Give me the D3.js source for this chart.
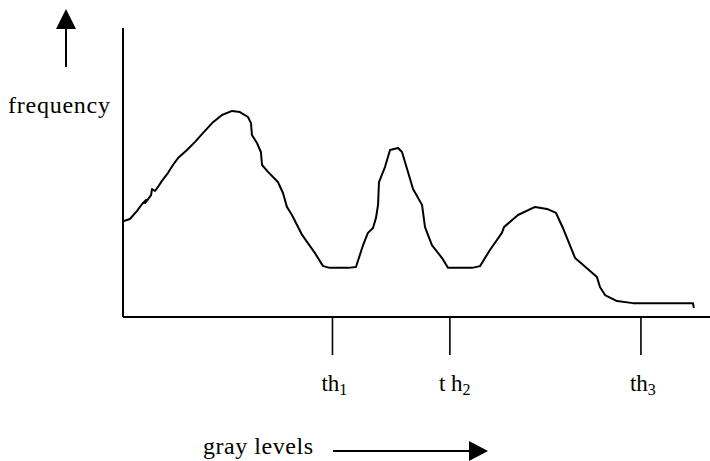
<!DOCTYPE html>
<html><head><meta charset="utf-8">
<script src="https://cdn.jsdelivr.net/npm/d3@7"></script>
<style>html,body{margin:0;padding:0;background:#fff;}svg{display:block;}</style>
</head><body>
<script>
// gray level (0-255) and frequency (0-100)
const grayLevels = [0.4,3.0,6.1,8.3,10.0,9.6,12.2,12.6,13.9,15.2,16.9,19.5,21.7,23.9,27.8,31.3,34.8,38.7,43.0,47.4,50.8,54.3,55.6,56.0,58.2,59.9,60.4,63.0,67.3,69.5,71.2,73.4,77.8,83.4,86.9,89.9,97.7,101.2,104.3,106.4,108.6,109.9,110.8,111.2,113.8,116.0,119.5,121.2,123.8,126.0,129.9,131.2,134.2,138.6,141.2,151.6,155.1,159.4,164.6,165.5,171.6,179.0,184.2,188.1,191.1,196.4,205.9,207.2,209.4,214.6,221.5,247.6,248.0];
const frequency  = [33.2,33.9,36.7,39.1,40.5,39.4,42.2,44.3,43.6,45.0,47.1,49.8,52.6,55.0,57.8,60.6,63.7,67.1,69.9,71.3,70.9,69.2,67.1,63.0,60.2,57.1,52.6,50.2,46.7,42.9,38.1,35.3,28.4,22.1,17.6,17.0,17.0,17.3,24.9,29.1,30.8,34.3,38.8,46.7,51.9,57.8,58.5,57.1,50.2,44.3,38.8,31.1,24.9,20.4,17.0,17.0,17.6,23.2,29.1,31.1,35.3,38.1,37.4,36.0,30.8,20.4,13.8,10.4,7.6,5.5,4.8,4.8,3.1];
const thresholds = [91, 142, 225];
const thresholdNames = ["1", "2", "3"];
const thresholdPrefix = ["th", "t h", "th"];
const xLabel = "gray levels";
const yLabel = "frequency";

const W = 710, H = 461;
const svg = d3.select("body").append("svg").attr("width", W).attr("height", H);
const x = d3.scaleLinear().domain([0, 255]).range([123, 710]);
const y = d3.scaleLinear().domain([0, 100]).range([317, 28]);
const font = "'Liberation Serif','Times New Roman',serif";

// axes
svg.append("line").attr("x1", x(0)).attr("x2", x(0)).attr("y1", y(100)).attr("y2", y(0))
  .attr("stroke", "#000").attr("stroke-width", 2);
svg.append("line").attr("x1", x(0)).attr("x2", x(255)).attr("y1", y(0)).attr("y2", y(0))
  .attr("stroke", "#000").attr("stroke-width", 2);

// threshold ticks
svg.selectAll(".tick").data(thresholds).enter().append("line")
  .attr("x1", d => x(d)).attr("x2", d => x(d)).attr("y1", y(0)).attr("y2", y(0) + 38)
  .attr("stroke", "#000").attr("stroke-width", 1.6);

const lab = svg.selectAll(".thl").data(thresholds).enter().append("text")
  .attr("x", d => x(d) - 11).attr("y", 391)
  .attr("font-family", font).attr("font-size", 23).attr("fill", "#000");
lab.append("tspan").text((d, i) => thresholdPrefix[i]).attr("xml:space", "preserve");
lab.append("tspan").attr("font-size", 16).attr("dy", 4).text((d, i) => thresholdNames[i]);

// curve
const pts = grayLevels.map((g, i) => [g, frequency[i]]);
svg.append("path").datum(pts)
  .attr("d", d3.line().x(d => x(d[0])).y(d => y(d[1])))
  .attr("fill", "none").attr("stroke", "#000").attr("stroke-width", 2).attr("stroke-linejoin", "round");

// y label and arrow
svg.append("text").attr("x", 8).attr("y", 113).attr("font-family", font).attr("font-size", 24)
  .attr("textLength", 102).text(yLabel);
svg.append("line").attr("x1", 66).attr("x2", 66).attr("y1", 67).attr("y2", 26)
  .attr("stroke", "#000").attr("stroke-width", 2);
svg.append("path").attr("d", "M66,9 L56,29 L76,29 Z").attr("fill", "#000");

// x label and arrow
svg.append("text").attr("x", 203).attr("y", 454).attr("font-family", font).attr("font-size", 24)
  .attr("textLength", 110).text(xLabel);
svg.append("line").attr("x1", 333).attr("x2", 472).attr("y1", 451).attr("y2", 451)
  .attr("stroke", "#000").attr("stroke-width", 2);
svg.append("path").attr("d", "M488,451 L469,441 L469,461 Z").attr("fill", "#000");
</script>
</body></html>
